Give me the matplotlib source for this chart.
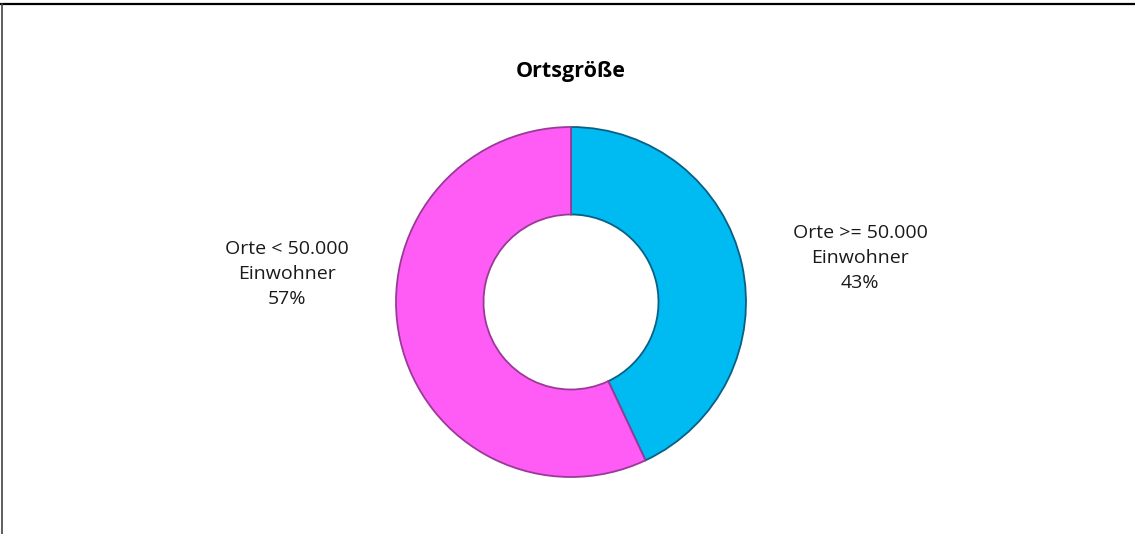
import matplotlib
matplotlib.use("Agg")
import matplotlib.pyplot as plt
from matplotlib.lines import Line2D

title = "Ortsgröße"
labels = ["Orte >= 50.000\nEinwohner\n43%", "Orte < 50.000\nEinwohner\n57%"]
shares = [43, 57]
colors = ["#00BAF2", "#FF5CF6"]
edges = ["#0a5f85", "#9a3a98"]

W, H = 1135, 534
fig = plt.figure(figsize=(W / 100, H / 100), dpi=100)
ax = fig.add_axes([0, 0, 1, 1])

# donut in pixel coordinates (y measured from bottom)
cx, cy, r = 571, H - 302, 175
wedges, _ = ax.pie(shares, colors=colors, startangle=90, counterclock=False,
                   center=(cx, cy), radius=r, frame=True,
                   wedgeprops=dict(width=r * 0.5, linewidth=1.3))
for w, e in zip(wedges, edges):
    w.set_edgecolor(e)
ax.set_xlim(0, W); ax.set_ylim(0, H); ax.axis("off")

font = "Open Sans"
ax.text(860, H - 258, labels[0], ha="center", va="center", fontsize=14,
        family=font, linespacing=1.5, color="#1a1a1a")
ax.text(287, H - 274, labels[1], ha="center", va="center", fontsize=14,
        family=font, linespacing=1.5, color="#1a1a1a")
ax.text(571, H - 72, title, ha="center", va="center", fontsize=15.5,
        family=font, fontweight="bold", color="black")

# chart frame: top and left edges visible
fig.add_artist(Line2D([0, 1], [1 - 4 / H, 1 - 4 / H], color="black", lw=1.6))
fig.add_artist(Line2D([2 / W, 2 / W], [0, 1 - 4 / H], color="#444444", lw=1.2))

fig.savefig("out.png", dpi=100)
